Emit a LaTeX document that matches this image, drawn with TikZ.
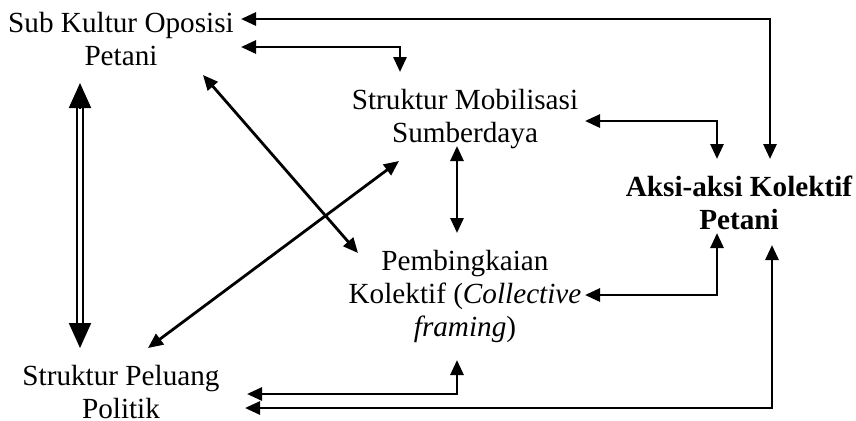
\documentclass[tikz,border=0pt]{standalone}
\usepackage{fontspec}
\setmainfont{Liberation Serif}
\usetikzlibrary{arrows.meta,calc}
\begin{document}
\begin{tikzpicture}[x=0.5pt,y=-0.5pt,
  lbl/.style={align=center, inner sep=0pt, font=\fontsize{14.6}{16.5}\selectfont},
  conn/.style={line width=1.4pt, miter limit=4,
    {Triangle[length=7.5pt,width=6.5pt]}-{Triangle[length=7.5pt,width=6.5pt]}},
  dbl/.style={double=white, line width=0.9pt, double distance=2pt},
  bigtip/.style={line width=1pt, -{Triangle[length=12.5pt,width=11pt]}}]
\useasboundingbox (0,0) rectangle (856,420);

% concepts
\node[lbl] (sub)  at (121,39)  {Sub Kultur Oposisi\\Petani};
\node[lbl] (mob)  at (465,119) {Struktur Mobilisasi\\Sumberdaya};
\node[lbl, font=\fontsize{14.6}{16.5}\bfseries] (aksi) at (739,203) {Aksi-aksi Kolektif\\Petani};
\node[lbl] (frame) at (465,296) {Pembingkaian\\Kolektif (\textit{Collective}\\\textit{framing})};
\node[lbl] (pel)  at (121,392) {Struktur Peluang\\Politik};

% connector ends
\coordinate (s1) at (241,19);   \coordinate (k1) at (770,19);  \coordinate (a1) at (770,159);
\coordinate (s2) at (241,47);   \coordinate (k2) at (400,47);  \coordinate (m1) at (400,72);
\coordinate (m2) at (585,121);  \coordinate (k3) at (717,121); \coordinate (a2) at (717,159);
\coordinate (f1) at (585,295);  \coordinate (k4) at (717,295); \coordinate (a3) at (717,233);
\coordinate (p1) at (247,394);  \coordinate (k5) at (457,394); \coordinate (f2) at (457,360);
\coordinate (p2) at (245,408);  \coordinate (k6) at (772,408); \coordinate (a4) at (772,245);
\coordinate (s3) at (203,75);   \coordinate (f3) at (358,253);
\coordinate (p3) at (148,348);  \coordinate (m3) at (399,161);
\coordinate (m4) at (457,146);  \coordinate (f4) at (457,233);
\coordinate (s4) at (80,83);    \coordinate (p4) at (80,348);

% elbow connectors
\draw[conn] (s1) -- (k1) -- (a1);
\draw[conn] (s2) -- (k2) -- (m1);
\draw[conn] (m2) -- (k3) -- (a2);
\draw[conn] (f1) -- (k4) -- (a3);
\draw[conn] (p1) -- (k5) -- (f2);
\draw[conn] (p2) -- (k6) -- (a4);

% straight connectors
\draw[conn] (s3) -- (f3);
\draw[conn] (p3) -- (m3);
\draw[conn] (m4) -- (f4);

% double-lined connector
\draw[dbl] ($(s4)!12pt!(p4)$) -- ($(p4)!12pt!(s4)$);
\draw[bigtip] ($(s4)!12.5pt!(p4)$) -- (s4);
\draw[bigtip] ($(p4)!12.5pt!(s4)$) -- (p4);
\end{tikzpicture}
\end{document}
